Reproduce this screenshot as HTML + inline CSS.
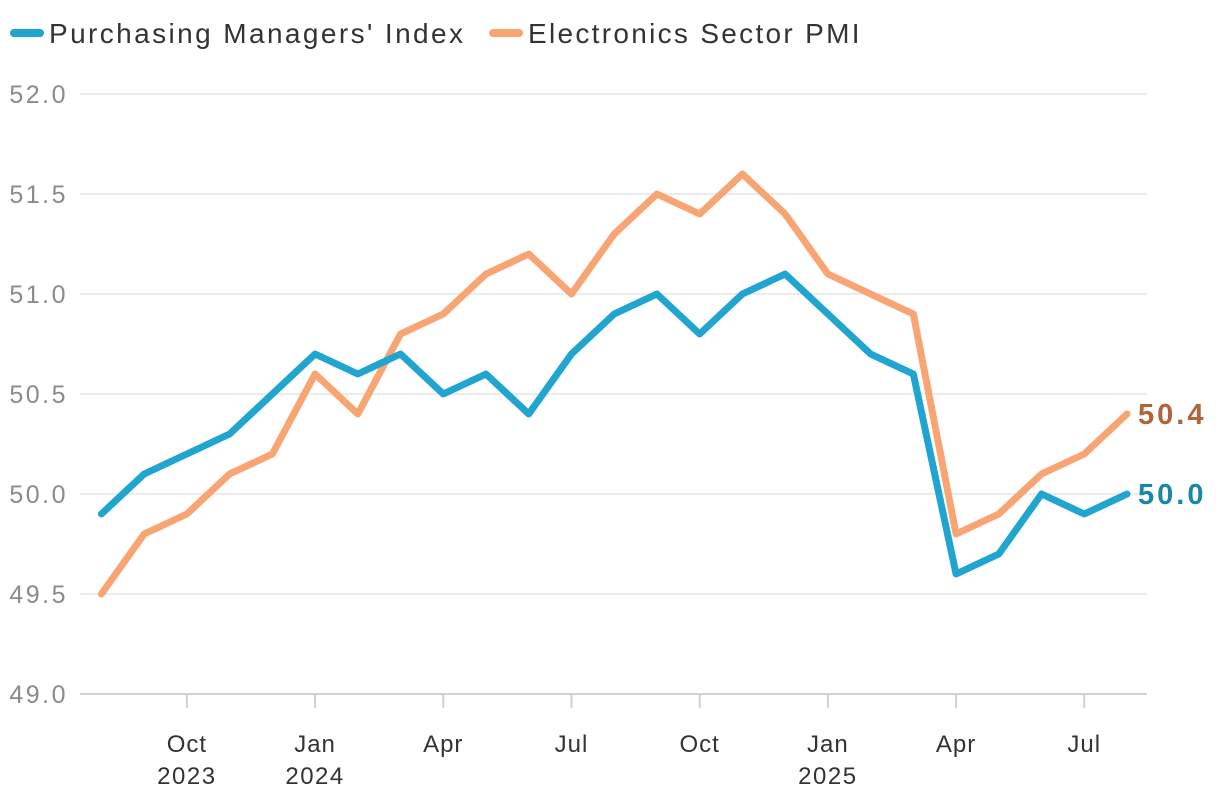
<!DOCTYPE html>
<html><head><meta charset="utf-8"><style>
body{margin:0;background:#fff;font-family:"Liberation Sans",sans-serif}
</style></head><body>
<svg id="chart" width="1220" height="802" xmlns="http://www.w3.org/2000/svg" font-family="Liberation Sans, sans-serif"></svg>
<script>
const months = ["2023-08","2023-09","2023-10","2023-11","2023-12","2024-01","2024-02","2024-03","2024-04","2024-05","2024-06","2024-07","2024-08","2024-09","2024-10","2024-11","2024-12","2025-01","2025-02","2025-03","2025-04","2025-05","2025-06","2025-07","2025-08"];
const pmi = [49.9,50.1,50.2,50.3,50.5,50.7,50.6,50.7,50.5,50.6,50.4,50.7,50.9,51.0,50.8,51.0,51.1,50.9,50.7,50.6,49.6,49.7,50.0,49.9,50.0];
const electronics = [49.5,49.8,49.9,50.1,50.2,50.6,50.4,50.8,50.9,51.1,51.2,51.0,51.3,51.5,51.4,51.6,51.4,51.1,51.0,50.9,49.8,49.9,50.1,50.2,50.4];
const yTicks = [49.0,49.5,50.0,50.5,51.0,51.5,52.0];
const xTickIdx = [2,5,8,11,14,17,20,23];
const xTickLabels = [["Oct","2023"],["Jan","2024"],["Apr",""],["Jul",""],["Oct",""],["Jan","2025"],["Apr",""],["Jul",""]];

const svg = document.getElementById('chart');
const NS = "http://www.w3.org/2000/svg";
const x = i => 101.4 + i*(1127-101.4)/24;
const y = v => 694 - (v-49)*200;
function mk(tag, attrs, parent){const e=document.createElementNS(NS,tag);for(const k in attrs)e.setAttribute(k,attrs[k]);(parent||svg).appendChild(e);return e;}

yTicks.forEach(t=>{
  const g=mk('line',{x1:80,x2:1147,y1:y(t),y2:y(t),stroke:t===49?'#d0d0d0':'#e6e6e6','stroke-width':t===49?2:1.5});
  
  
  const l=mk('text',{x:68,y:y(t)+9,'text-anchor':'end','font-size':25,fill:'#8a8a8a','letter-spacing':2.5});
  l.textContent=t.toFixed(1);
  
  
});
xTickIdx.forEach((idx,k)=>{
  const tk=mk('line',{x1:x(idx),x2:x(idx),y1:694,y2:708,stroke:'#d0d0d0','stroke-width':2});
  
  
  const t1=mk('text',{x:x(idx),y:752,'text-anchor':'middle','font-size':24,fill:'#333','letter-spacing':1});
  t1.textContent=xTickLabels[k][0];
  
  
  if(xTickLabels[k][1]){
    const t2=mk('text',{x:x(idx),y:784,'text-anchor':'middle','font-size':24,fill:'#333','letter-spacing':1.5});
    t2.textContent=xTickLabels[k][1];
    
    
  }
});
function line(vals,color,name){
  const p=mk('polyline',{points:vals.map((v,i)=>x(i)+','+y(v)).join(' '),fill:'none',stroke:color,'stroke-width':7,'stroke-linejoin':'round','stroke-linecap':'round'});
  
  
}
line(electronics,'#f9a473','electronics-pmi-line');
line(pmi,'#1fa5cf','pmi-line');
const e1=mk('text',{x:1138,y:y(electronics[24])+10,'font-size':29,'font-weight':'bold',fill:'#b0643a','letter-spacing':3});
e1.textContent=electronics[24].toFixed(1);


const e2=mk('text',{x:1138,y:y(pmi[24])+10,'font-size':29,'font-weight':'bold',fill:'#1a86a8','letter-spacing':3});
e2.textContent=pmi[24].toFixed(1);


// legend
const lg=mk('g',{});


const l1=mk('line',{x1:14,x2:40,y1:33,y2:33,stroke:'#1fa5cf','stroke-width':8,'stroke-linecap':'round'},lg);


const lt1=mk('text',{x:49,y:43,'font-size':28,fill:'#333','letter-spacing':2.4},lg);
lt1.textContent="Purchasing Managers' Index";


const l2=mk('line',{x1:493,x2:519,y1:33,y2:33,stroke:'#f9a473','stroke-width':8,'stroke-linecap':'round'},lg);


const lt2=mk('text',{x:528,y:43,'font-size':28,fill:'#333','letter-spacing':2.3},lg);
lt2.textContent="Electronics Sector PMI";


</script>
</body></html>
